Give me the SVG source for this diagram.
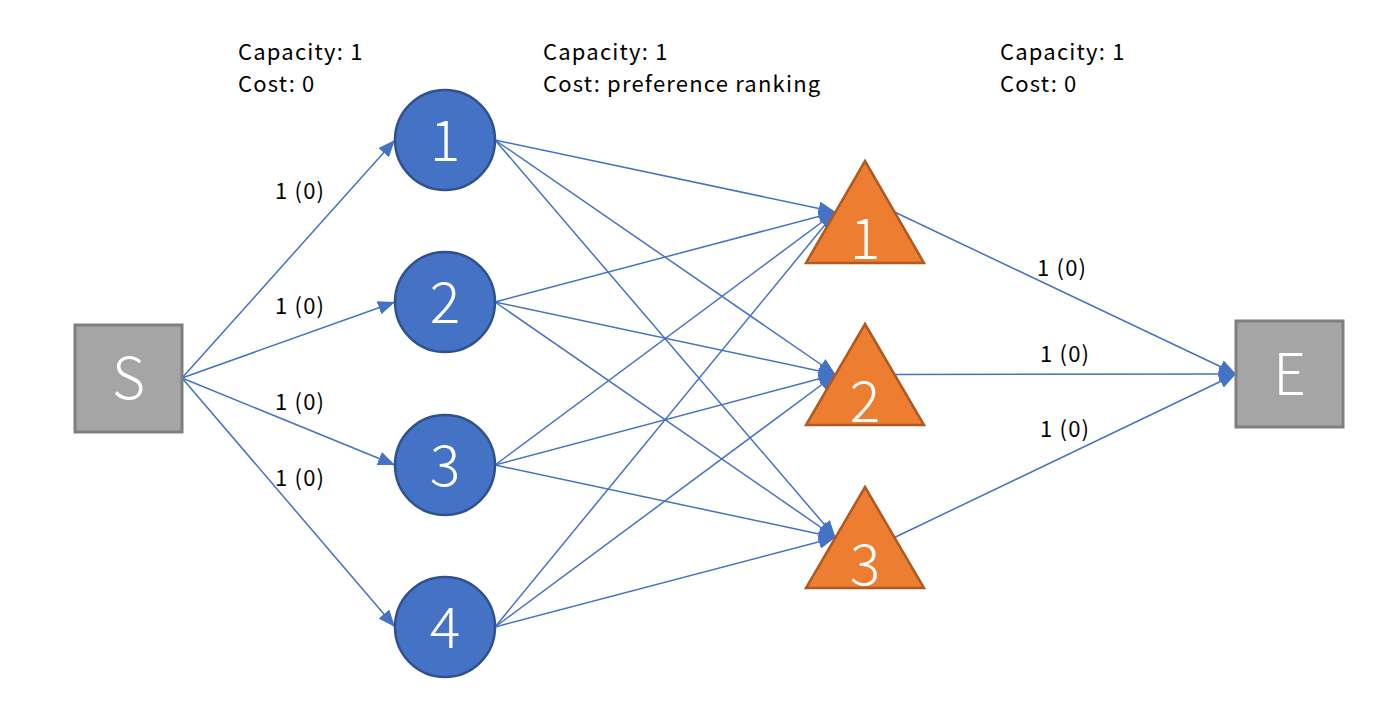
<svg xmlns="http://www.w3.org/2000/svg" width="1394" height="719" viewBox="0 0 1394 719">
<defs>
<marker id="arr" markerUnits="userSpaceOnUse" markerWidth="18" markerHeight="14" refX="17" refY="7" orient="auto">
<path d="M0,0 L17,7 L0,14 z" fill="#4472c4"/>
</marker>
<style>
.box{fill:#a5a5a5;stroke:#7f7f7f;stroke-width:3}
.circ{fill:#4472c4;stroke:#2f528f;stroke-width:2.5}
.tri{fill:#ed7d31;stroke:#ae5a21;stroke-width:2.5}
.big{font-family:"Noto Sans CJK SC","Noto Sans",sans-serif;font-size:57px;font-weight:300;fill:#ffffff;text-anchor:middle}
.lbl{font-family:"Noto Sans CJK SC","Noto Sans",sans-serif;font-size:22px;letter-spacing:1.2px;fill:#000000}
.edge{stroke:#4472c4;stroke-width:1.5;fill:none;marker-end:url(#arr)}
</style>
</defs>
<rect width="1394" height="719" fill="#ffffff"/>
<g id="connectors">
<line class="edge" x1="182" y1="378" x2="395" y2="140"/>
<line class="edge" x1="182" y1="378" x2="395" y2="302"/>
<line class="edge" x1="182" y1="378" x2="395" y2="465"/>
<line class="edge" x1="182" y1="378" x2="395" y2="627"/>
<line class="edge" x1="495" y1="140" x2="835.5" y2="212"/>
<line class="edge" x1="495" y1="140" x2="835.5" y2="374.5"/>
<line class="edge" x1="495" y1="140" x2="835.5" y2="537.5"/>
<line class="edge" x1="495" y1="302" x2="835.5" y2="212"/>
<line class="edge" x1="495" y1="302" x2="835.5" y2="374.5"/>
<line class="edge" x1="495" y1="302" x2="835.5" y2="537.5"/>
<line class="edge" x1="495" y1="465" x2="835.5" y2="212"/>
<line class="edge" x1="495" y1="465" x2="835.5" y2="374.5"/>
<line class="edge" x1="495" y1="465" x2="835.5" y2="537.5"/>
<line class="edge" x1="495" y1="627" x2="835.5" y2="212"/>
<line class="edge" x1="495" y1="627" x2="835.5" y2="374.5"/>
<line class="edge" x1="495" y1="627" x2="835.5" y2="537.5"/>
<line class="edge" x1="894.5" y1="212" x2="1236" y2="374"/>
<line class="edge" x1="894.5" y1="374.5" x2="1236" y2="374"/>
<line class="edge" x1="894.5" y1="537.5" x2="1236" y2="374"/>
</g>
<g id="edge-labels">
<text class="lbl" x="275" y="199">1 (0)</text>
<text class="lbl" x="275" y="314">1 (0)</text>
<text class="lbl" x="275" y="410">1 (0)</text>
<text class="lbl" x="275" y="486">1 (0)</text>
<text class="lbl" x="1037" y="276">1 (0)</text>
<text class="lbl" x="1040" y="362">1 (0)</text>
<text class="lbl" x="1040" y="437">1 (0)</text>
</g>
<g id="headers">
<text class="lbl" x="238" y="60">Capacity: 1</text>
<text class="lbl" x="238" y="92">Cost: 0</text>
<text class="lbl" x="543" y="60">Capacity: 1</text>
<text class="lbl" x="543" y="92">Cost: preference ranking</text>
<text class="lbl" x="1000" y="60">Capacity: 1</text>
<text class="lbl" x="1000" y="92">Cost: 0</text>
</g>
<g id="node-S">
<rect class="box" x="75" y="325" width="107" height="107"/>
<text class="big" x="128.5" y="399">S</text>
</g>
<g id="node-c1">
<circle class="circ" cx="445" cy="140" r="50"/>
<text class="big" x="445" y="161">1</text>
</g>
<g id="node-c2">
<circle class="circ" cx="445" cy="302" r="50"/>
<text class="big" x="445" y="323">2</text>
</g>
<g id="node-c3">
<circle class="circ" cx="445" cy="465" r="50"/>
<text class="big" x="445" y="486">3</text>
</g>
<g id="node-c4">
<circle class="circ" cx="445" cy="627" r="50"/>
<text class="big" x="445" y="648">4</text>
</g>
<g id="node-t1">
<polygon class="tri" points="865,161 924,263 806,263"/>
<text class="big" x="865" y="259">1</text>
</g>
<g id="node-t2">
<polygon class="tri" points="865,324 924,425 806,425"/>
<text class="big" x="865" y="422">2</text>
</g>
<g id="node-t3">
<polygon class="tri" points="865,487 924,588 806,588"/>
<text class="big" x="865" y="585">3</text>
</g>
<g id="node-E">
<rect class="box" x="1236" y="321" width="107" height="106"/>
<text class="big" x="1289.5" y="395">E</text>
</g>
</svg>
